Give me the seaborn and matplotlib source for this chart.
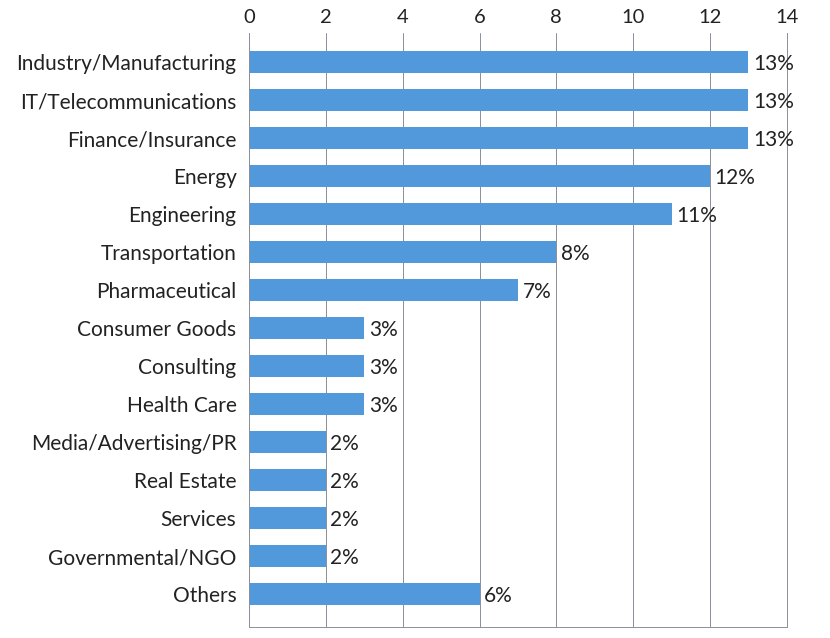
import pandas as pd
import matplotlib.pyplot as plt
import seaborn as sns

# Chart data
industries = [
    "Industry/Manufacturing", "IT/Telecommunications", "Finance/Insurance",
    "Energy", "Engineering", "Transportation", "Pharmaceutical",
    "Consumer Goods", "Consulting", "Health Care", "Media/Advertising/PR",
    "Real Estate", "Services", "Governmental/NGO", "Others",
]
shares = [13, 13, 13, 12, 11, 8, 7, 3, 3, 3, 2, 2, 2, 2, 6]
x_ticks = [0, 2, 4, 6, 8, 10, 12, 14]

df = pd.DataFrame({"industry": industries, "share": shares})

sns.set_theme(style="white")
plt.rcParams["font.family"] = ["Lato", "DejaVu Sans"]

fig = plt.figure(figsize=(8.3, 6.38), dpi=100)
ax = fig.add_axes([0.3, 0.017, 0.648, 0.931])

sns.barplot(data=df, x="share", y="industry", color="#5199da",
            saturation=1, width=0.57, linewidth=0, ax=ax, orient="h")

ax.set_xlim(0, 14)
ax.set_ylim(14.87, -0.76)
ax.set_xticks(x_ticks)
ax.xaxis.tick_top()
ax.tick_params(axis="x", length=0, labelsize=14.5, pad=5, colors="#222222")
ax.tick_params(axis="y", length=0, labelsize=15, pad=9, colors="#222222")
ax.set_xlabel("")
ax.set_ylabel("")
ax.grid(axis="x", color="#8a9099", linewidth=0.7)
ax.set_axisbelow(True)

ax.spines["top"].set_visible(False)
for side in ["left", "right", "bottom"]:
    ax.spines[side].set_color("#8a9099")
    ax.spines[side].set_linewidth(0.7)

for i, v in enumerate(shares):
    ax.text(v + 0.12, i + 0.05, f"{v}%", va="center", ha="left",
            fontsize=15, color="#222222")

fig.savefig("out.png", dpi=100)
